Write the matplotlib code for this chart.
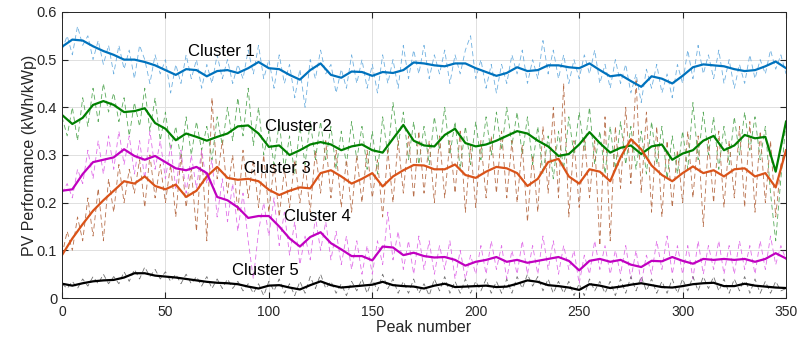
import numpy as np
import matplotlib
matplotlib.use('Agg')
import matplotlib.pyplot as plt

# smoothed series, one value every 5 peaks (0..350)
peaks_smooth = np.arange(0, 351, 5)
c1_smooth = [0.527, 0.542, 0.540, 0.528, 0.518, 0.510, 0.500, 0.500, 0.495, 0.488,
             0.478, 0.468, 0.480, 0.478, 0.465, 0.476, 0.478, 0.472, 0.482, 0.495,
             0.482, 0.480, 0.468, 0.458, 0.478, 0.492, 0.468, 0.462, 0.475, 0.474,
             0.466, 0.474, 0.472, 0.478, 0.494, 0.492, 0.488, 0.486, 0.492, 0.492,
             0.482, 0.474, 0.466, 0.472, 0.484, 0.476, 0.478, 0.488, 0.488, 0.484,
             0.482, 0.492, 0.478, 0.465, 0.468, 0.455, 0.443, 0.465, 0.460, 0.450,
             0.466, 0.484, 0.490, 0.488, 0.486, 0.480, 0.476, 0.478, 0.486, 0.496,
             0.482]
c2_smooth = [0.384, 0.365, 0.378, 0.405, 0.413, 0.405, 0.390, 0.392, 0.398, 0.367,
             0.355, 0.331, 0.345, 0.338, 0.330, 0.338, 0.345, 0.360, 0.362, 0.345,
             0.317, 0.320, 0.300, 0.310, 0.322, 0.327, 0.322, 0.310, 0.318, 0.322,
             0.310, 0.305, 0.334, 0.363, 0.330, 0.320, 0.318, 0.342, 0.355, 0.325,
             0.318, 0.322, 0.330, 0.340, 0.350, 0.345, 0.330, 0.318, 0.298, 0.302,
             0.322, 0.348, 0.325, 0.305, 0.315, 0.320, 0.302, 0.318, 0.322, 0.290,
             0.303, 0.310, 0.330, 0.340, 0.310, 0.320, 0.342, 0.335, 0.338, 0.265,
             0.370]
c3_smooth = [0.090, 0.125, 0.155, 0.183, 0.205, 0.225, 0.245, 0.240, 0.255, 0.235,
             0.228, 0.238, 0.212, 0.225, 0.255, 0.275, 0.252, 0.248, 0.250, 0.245,
             0.227, 0.216, 0.225, 0.232, 0.230, 0.262, 0.268, 0.255, 0.240, 0.250,
             0.262, 0.234, 0.255, 0.268, 0.279, 0.278, 0.270, 0.270, 0.280, 0.258,
             0.252, 0.265, 0.275, 0.272, 0.262, 0.235, 0.250, 0.285, 0.292, 0.255,
             0.240, 0.270, 0.265, 0.245, 0.295, 0.333, 0.312, 0.278, 0.258, 0.245,
             0.262, 0.276, 0.262, 0.268, 0.255, 0.270, 0.272, 0.255, 0.262, 0.232,
             0.310]
c4_smooth = [0.225, 0.228, 0.260, 0.285, 0.290, 0.295, 0.312, 0.298, 0.290, 0.298,
             0.285, 0.272, 0.268, 0.275, 0.262, 0.212, 0.205, 0.190, 0.168, 0.172,
             0.172, 0.150, 0.125, 0.108, 0.128, 0.138, 0.115, 0.102, 0.088, 0.088,
             0.079, 0.108, 0.106, 0.090, 0.095, 0.088, 0.085, 0.086, 0.080, 0.068,
             0.076, 0.080, 0.086, 0.076, 0.080, 0.074, 0.078, 0.082, 0.086, 0.078,
             0.058, 0.078, 0.082, 0.076, 0.080, 0.070, 0.065, 0.078, 0.077, 0.086,
             0.078, 0.072, 0.082, 0.080, 0.082, 0.080, 0.082, 0.076, 0.082, 0.094,
             0.083]
c5_smooth = [0.030, 0.026, 0.031, 0.035, 0.037, 0.038, 0.043, 0.052, 0.052, 0.047,
             0.045, 0.043, 0.040, 0.037, 0.034, 0.032, 0.031, 0.029, 0.024, 0.020,
             0.026, 0.027, 0.022, 0.018, 0.027, 0.035, 0.027, 0.022, 0.024, 0.026,
             0.028, 0.034, 0.027, 0.025, 0.024, 0.020, 0.026, 0.030, 0.023, 0.024,
             0.025, 0.026, 0.023, 0.024, 0.030, 0.037, 0.034, 0.027, 0.025, 0.022,
             0.017, 0.029, 0.026, 0.021, 0.024, 0.028, 0.031, 0.027, 0.023, 0.022,
             0.025, 0.029, 0.031, 0.032, 0.025, 0.025, 0.030, 0.026, 0.024, 0.022,
             0.021]

# raw (dashed) series, one value every 2.5 peaks
c1_raw = [0.52, 0.55, 0.51, 0.57, 0.53, 0.55, 0.50, 0.54, 0.49, 0.53,
          0.47, 0.53, 0.48, 0.52, 0.46, 0.53, 0.50, 0.45, 0.51, 0.47,
          0.50, 0.43, 0.49, 0.45, 0.51, 0.46, 0.50, 0.44, 0.49, 0.45,
          0.51, 0.46, 0.50, 0.45, 0.49, 0.46, 0.52, 0.47, 0.53, 0.46,
          0.50, 0.44, 0.51, 0.45, 0.49, 0.42, 0.48, 0.40, 0.50, 0.46,
          0.52, 0.47, 0.49, 0.43, 0.48, 0.44, 0.51, 0.45, 0.50, 0.44,
          0.49, 0.43, 0.51, 0.45, 0.50, 0.44, 0.53, 0.46, 0.52, 0.47,
          0.53, 0.46, 0.51, 0.47, 0.52, 0.45, 0.51, 0.47, 0.52, 0.55,
          0.46, 0.50, 0.44, 0.49, 0.43, 0.49, 0.45, 0.51, 0.47, 0.52,
          0.45, 0.50, 0.46, 0.54, 0.47, 0.52, 0.46, 0.51, 0.45, 0.50,
          0.46, 0.51, 0.47, 0.52, 0.45, 0.49, 0.44, 0.50, 0.45, 0.49,
          0.43, 0.47, 0.41, 0.48, 0.44, 0.49, 0.43, 0.47, 0.42, 0.49,
          0.45, 0.52, 0.46, 0.53, 0.47, 0.51, 0.46, 0.52, 0.45, 0.50,
          0.44, 0.49, 0.45, 0.51, 0.46, 0.50, 0.47, 0.52, 0.48, 0.51,
          0.47]
c2_raw = [0.38, 0.34, 0.40, 0.33, 0.42, 0.36, 0.44, 0.37, 0.45, 0.39,
          0.43, 0.37, 0.42, 0.34, 0.41, 0.36, 0.44, 0.35, 0.42, 0.33,
          0.39, 0.31, 0.36, 0.29, 0.38, 0.30, 0.37, 0.31, 0.36, 0.29,
          0.38, 0.32, 0.40, 0.33, 0.42, 0.34, 0.44, 0.32, 0.40, 0.30,
          0.35, 0.28, 0.37, 0.27, 0.34, 0.26, 0.36, 0.28, 0.37, 0.29,
          0.37, 0.29, 0.36, 0.27, 0.35, 0.28, 0.37, 0.29, 0.36, 0.27,
          0.35, 0.26, 0.38, 0.30, 0.41, 0.32, 0.39, 0.29, 0.37, 0.28,
          0.36, 0.28, 0.38, 0.31, 0.40, 0.30, 0.37, 0.27, 0.36, 0.28,
          0.37, 0.29, 0.38, 0.30, 0.39, 0.31, 0.40, 0.32, 0.39, 0.30,
          0.38, 0.28, 0.36, 0.26, 0.34, 0.25, 0.35, 0.27, 0.38, 0.30,
          0.39, 0.31, 0.40, 0.28, 0.35, 0.26, 0.36, 0.27, 0.37, 0.28,
          0.36, 0.27, 0.35, 0.26, 0.37, 0.28, 0.36, 0.25, 0.34, 0.26,
          0.35, 0.27, 0.41, 0.29, 0.39, 0.30, 0.38, 0.27, 0.36, 0.28,
          0.38, 0.30, 0.39, 0.31, 0.38, 0.29, 0.36, 0.22, 0.12, 0.25,
          0.37]
c3_raw = [0.09, 0.14, 0.10, 0.17, 0.12, 0.21, 0.13, 0.23, 0.12, 0.25,
          0.18, 0.28, 0.20, 0.27, 0.22, 0.29, 0.19, 0.30, 0.21, 0.28,
          0.20, 0.28, 0.17, 0.30, 0.19, 0.27, 0.14, 0.31, 0.12, 0.42,
          0.25, 0.33, 0.22, 0.30, 0.18, 0.31, 0.21, 0.29, 0.19, 0.30,
          0.18, 0.28, 0.17, 0.27, 0.19, 0.29, 0.20, 0.28, 0.18, 0.31,
          0.22, 0.33, 0.21, 0.31, 0.19, 0.29, 0.18, 0.30, 0.20, 0.31,
          0.21, 0.29, 0.17, 0.31, 0.20, 0.33, 0.22, 0.34, 0.21, 0.35,
          0.22, 0.33, 0.20, 0.34, 0.21, 0.33, 0.22, 0.35, 0.18, 0.32,
          0.19, 0.33, 0.21, 0.34, 0.22, 0.35, 0.21, 0.33, 0.20, 0.32,
          0.16, 0.30, 0.18, 0.36, 0.22, 0.40, 0.21, 0.45, 0.17, 0.33,
          0.19, 0.34, 0.21, 0.33, 0.11, 0.38, 0.12, 0.36, 0.23, 0.40,
          0.24, 0.46, 0.22, 0.39, 0.18, 0.36, 0.17, 0.33, 0.19, 0.31,
          0.20, 0.35, 0.21, 0.34, 0.15, 0.33, 0.20, 0.35, 0.19, 0.33,
          0.21, 0.36, 0.19, 0.37, 0.18, 0.35, 0.20, 0.33, 0.17, 0.28,
          0.31]
c4_raw = [0.22, 0.24, 0.21, 0.27, 0.24, 0.31, 0.25, 0.33, 0.26, 0.34,
          0.27, 0.35, 0.28, 0.34, 0.26, 0.33, 0.25, 0.35, 0.27, 0.33,
          0.25, 0.32, 0.23, 0.31, 0.22, 0.30, 0.23, 0.31, 0.24, 0.29,
          0.17, 0.25, 0.16, 0.24, 0.14, 0.22, 0.12, 0.04, 0.14, 0.20,
          0.13, 0.21, 0.11, 0.18, 0.09, 0.16, 0.07, 0.13, 0.08, 0.17,
          0.10, 0.16, 0.08, 0.14, 0.07, 0.13, 0.06, 0.12, 0.05, 0.11,
          0.05, 0.12, 0.07, 0.18, 0.08, 0.14, 0.06, 0.12, 0.05, 0.13,
          0.06, 0.12, 0.05, 0.11, 0.06, 0.12, 0.04, 0.10, 0.04, 0.09,
          0.05, 0.11, 0.05, 0.12, 0.06, 0.11, 0.04, 0.10, 0.05, 0.12,
          0.05, 0.11, 0.05, 0.13, 0.06, 0.12, 0.05, 0.11, 0.06, 0.10,
          0.03, 0.09, 0.05, 0.12, 0.06, 0.11, 0.05, 0.10, 0.05, 0.11,
          0.04, 0.10, 0.03, 0.09, 0.05, 0.12, 0.06, 0.13, 0.05, 0.11,
          0.05, 0.11, 0.04, 0.12, 0.05, 0.11, 0.06, 0.12, 0.05, 0.11,
          0.05, 0.12, 0.06, 0.11, 0.05, 0.12, 0.06, 0.13, 0.07, 0.11,
          0.08]
c5_raw = [0.030, 0.020, 0.035, 0.020, 0.040, 0.025, 0.045, 0.030, 0.050, 0.030,
          0.045, 0.030, 0.055, 0.035, 0.060, 0.040, 0.065, 0.045, 0.060, 0.040,
          0.055, 0.035, 0.050, 0.030, 0.050, 0.030, 0.045, 0.025, 0.045, 0.020,
          0.040, 0.020, 0.040, 0.020, 0.035, 0.015, 0.030, 0.010, 0.030, 0.005,
          0.035, 0.015, 0.040, 0.010, 0.030, 0.005, 0.035, 0.010, 0.045, 0.020,
          0.050, 0.020, 0.035, 0.010, 0.030, 0.005, 0.035, 0.015, 0.040, 0.010,
          0.040, 0.015, 0.050, 0.020, 0.040, 0.010, 0.035, 0.010, 0.040, 0.010,
          0.030, 0.005, 0.040, 0.015, 0.045, 0.010, 0.035, 0.010, 0.040, 0.010,
          0.035, 0.015, 0.040, 0.010, 0.035, 0.010, 0.040, 0.010, 0.045, 0.020,
          0.050, 0.025, 0.045, 0.015, 0.040, 0.010, 0.035, 0.010, 0.035, 0.005,
          0.030, 0.005, 0.040, 0.015, 0.035, 0.010, 0.035, 0.005, 0.040, 0.010,
          0.045, 0.015, 0.045, 0.015, 0.040, 0.010, 0.035, 0.010, 0.040, 0.010,
          0.040, 0.015, 0.045, 0.015, 0.045, 0.020, 0.045, 0.015, 0.040, 0.010,
          0.040, 0.015, 0.045, 0.010, 0.040, 0.010, 0.035, 0.010, 0.035, 0.015,
          0.020]

labels = ['Cluster 1', 'Cluster 2', 'Cluster 3', 'Cluster 4', 'Cluster 5']
label_pos = [(61, 0.516), (98, 0.359), (88, 0.272), (107.5, 0.171), (82, 0.058)]

smooth = [c1_smooth, c2_smooth, c3_smooth, c4_smooth, c5_smooth]
raw = [c1_raw, c2_raw, c3_raw, c4_raw, c5_raw]
line_colors = ['#0072bd', '#008000', '#d95319', '#c000c0', '#000000']
raw_colors = ['#6fb0e0', '#5aaa5a', '#b8704c', '#e070e8', '#707070']

plt.rcParams['font.family'] = ['Liberation Sans', 'DejaVu Sans']

fig = plt.figure(figsize=(7.98, 3.41), dpi=100)
ax = fig.add_axes([0.0777, 0.126, 0.9073, 0.839])

for vals, col in zip(raw, raw_colors):
    x_raw = np.linspace(0, 350, len(vals))
    ax.plot(x_raw, vals, color=col, lw=0.6, ls=(0, (6, 4)))
for vals, col in zip(smooth, line_colors):
    ax.plot(peaks_smooth[:len(vals)], vals, color=col, lw=1.6)

for lab, (lx, ly) in zip(labels, label_pos):
    ax.text(lx, ly, lab, fontsize=12, color='#000000', ha='left', va='center')

ax.set_xlim(0, 350)
ax.set_ylim(0, 0.6)
ax.set_xticks(np.arange(0, 351, 50))
ax.set_yticks([0, 0.1, 0.2, 0.3, 0.4, 0.5, 0.6])
ax.set_yticklabels(['0', '0.1', '0.2', '0.3', '0.4', '0.5', '0.6'])
ax.grid(True, color='#e0e0e0', lw=0.7)
ax.set_axisbelow(True)
ax.tick_params(direction='in', length=4, labelsize=10.5, colors='#262626',
               top=True, right=True)
ax.tick_params(axis='x', pad=5, labelsize=10)
for sp in ax.spines.values():
    sp.set_color('#262626')
    sp.set_linewidth(0.7)
ax.set_xlabel('Peak number', fontsize=11.5, color='#262626', labelpad=1)
ax.set_ylabel('PV Performance (kWh/kWp)', fontsize=11.5, color='#262626', labelpad=0)

fig.savefig('out.png', dpi=100)
